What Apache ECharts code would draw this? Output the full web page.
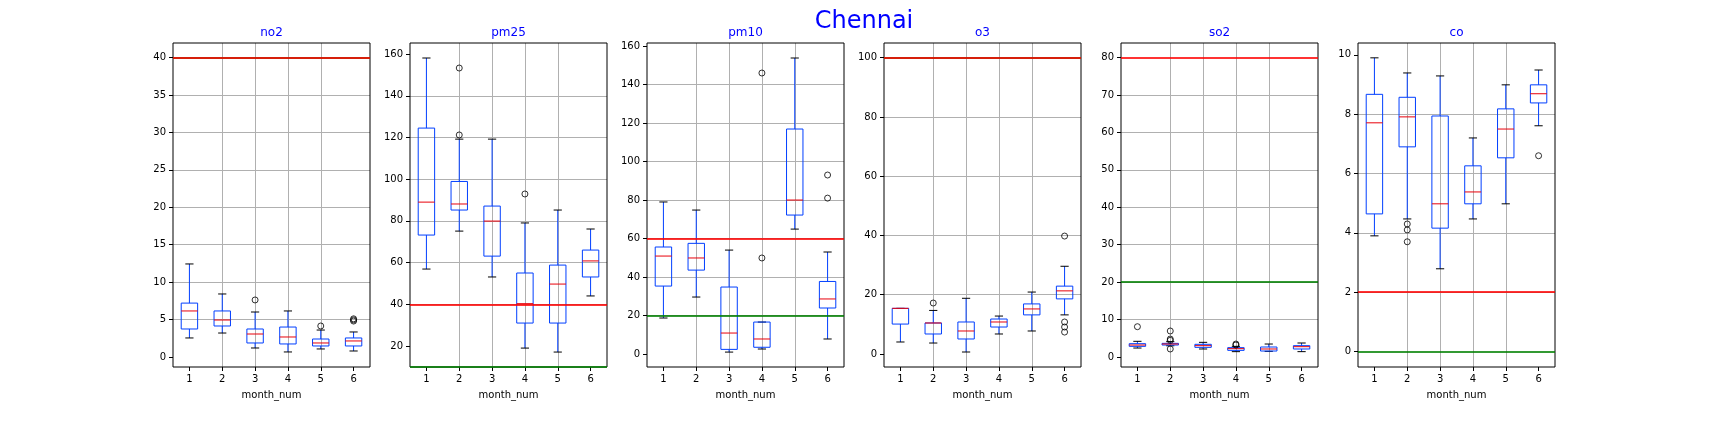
<!DOCTYPE html>
<html>
<head>
<meta charset="utf-8">
<script src="https://cdn.jsdelivr.net/npm/echarts@6/dist/echarts.min.js"></script>
<style>
  html, body { margin: 0; padding: 0; background: #fff; }
  #chart { width: 1728px; height: 432px; }
</style>
</head>
<body>
<div id="chart"></div>
<script>
const months = [1, 2, 3, 4, 5, 6];
const pollutants = ["no2", "pm25", "pm10", "o3", "so2", "co"];

// [min, q1, median, q3, max] for each month
const no2Box = [
  [2.54, 3.74, 6.15, 7.2, 12.43], [3.2, 4.14, 4.94, 6.15, 8.42], [1.2, 1.87, 3.07, 3.74, 6.01],
  [0.67, 1.74, 2.67, 4.0, 6.15], [1.07, 1.47, 1.87, 2.4, 3.6], [0.8, 1.47, 2.14, 2.54, 3.34]
];
const pm25Box = [
  [56.9, 73.2, 89.0, 124.5, 158.1], [75.1, 85.2, 88.1, 98.9, 119.2], [53.1, 63.1, 79.9, 87.1, 119.2],
  [19.0, 31.0, 40.3, 55.0, 79.0], [17.1, 31.0, 49.7, 58.8, 85.2], [44.0, 53.1, 60.8, 66.0, 76.1]
];
const pm10Box = [
  [18.7, 35.3, 50.9, 55.6, 79.0], [29.6, 43.6, 49.9, 57.5, 74.8], [1.0, 2.4, 10.9, 34.8, 54.0],
  [2.6, 3.5, 7.8, 16.6, 16.6], [64.9, 72.2, 80.0, 116.9, 153.8], [7.8, 23.9, 28.6, 37.7, 53.0]
];
const o3Box = [
  [4.05, 10.1, 15.4, 15.4, 15.4], [3.7, 6.75, 10.46, 10.46, 14.7], [0.67, 5.06, 7.76, 10.8, 18.8],
  [6.75, 9.1, 10.8, 11.8, 12.8], [7.76, 13.2, 15.2, 16.9, 20.9], [13.2, 18.6, 21.3, 22.9, 29.6]
];
const so2Box = [
  [2.4, 2.85, 3.2, 3.56, 4.19], [3.0, 3.2, 3.47, 3.65, 4.1], [2.14, 2.58, 3.03, 3.39, 3.92],
  [1.43, 1.78, 2.23, 2.5, 2.85], [1.51, 1.6, 2.14, 2.67, 3.47], [1.43, 2.14, 2.76, 3.03, 3.74]
];
const coBox = [
  [3.9, 4.64, 7.71, 8.67, 9.9], [4.47, 6.9, 7.91, 8.57, 9.39], [2.79, 4.16, 4.98, 7.94, 9.29],
  [4.47, 4.98, 5.38, 6.26, 7.2], [4.98, 6.53, 7.5, 8.18, 8.99], [7.61, 8.38, 8.69, 8.99, 9.49]
];

// outliers: [month, value]
const no2Out = [[3, 7.62], [5, 4.14], [6, 4.8], [6, 4.95], [6, 5.1]];
const pm25Out = [[2, 153.3], [2, 121.2], [4, 92.9]];
const pm10Out = [[4, 146.0], [4, 49.9], [6, 93.0], [6, 81.0]];
const o3Out = [[2, 17.2], [6, 39.8], [6, 10.8], [6, 9.1], [6, 7.4]];
const so2Out = [[1, 8.1], [2, 6.95], [2, 4.8], [2, 4.45], [2, 2.14], [4, 3.47], [4, 3.2]];
const coOut = [[2, 4.3], [2, 4.1], [2, 3.7], [6, 6.6]];

// guideline levels per pollutant
const redLimit = [40, 40, 60, 100, 80, 2];
const greenLimit = [40, 10, 20, 100, 20, 0];

// y axis extents and ticks
const yMin = [-1.34, 9.93, -6.75, -4.39, -2.67, -0.52];
const yMax = [41.96, 165.3, 161.6, 104.95, 83.9, 10.4];
const yStep = [5, 20, 20, 20, 10, 2];
const no2Ticks = [0, 5, 10, 15, 20, 25, 30, 35, 40];
const pm25Ticks = [20, 40, 60, 80, 100, 120, 140, 160];
const pm10Ticks = [0, 20, 40, 60, 80, 100, 120, 140, 160];
const o3Ticks = [0, 20, 40, 60, 80, 100];
const so2Ticks = [0, 10, 20, 30, 40, 50, 60, 70, 80];
const coTicks = [0, 2, 4, 6, 8, 10];

const boxes = [no2Box, pm25Box, pm10Box, o3Box, so2Box, coBox];
const outliers = [no2Out, pm25Out, pm10Out, o3Out, so2Out, coOut];
const yTicks = [no2Ticks, pm25Ticks, pm10Ticks, o3Ticks, so2Ticks, coTicks];

const FONT = "DejaVu Sans";
const BLUE = "#003FFF";
const MED = "#E8000B";
const panelLeft = i => 173 + 237 * i;
const panelW = 197;

function renderBox(params, api) {
  const x = api.value(0);
  const lo = api.coord([x, api.value(1)]);
  const q1 = api.coord([x, api.value(2)]);
  const md = api.coord([x, api.value(3)]);
  const q3 = api.coord([x, api.value(4)]);
  const hi = api.coord([x, api.value(5)]);
  const bw = api.size([0.5, 0])[0];
  const cw = bw / 2;
  const cx = lo[0];
  const seg = (x1, y1, x2, y2, color) => ({
    type: "line",
    shape: { x1, y1, x2, y2 },
    style: { stroke: color, lineWidth: 1 }
  });
  return {
    type: "group",
    children: [
      seg(cx, q1[1], cx, lo[1], BLUE),
      seg(cx, q3[1], cx, hi[1], BLUE),
      seg(cx - cw / 2, lo[1], cx + cw / 2, lo[1], "#000"),
      seg(cx - cw / 2, hi[1], cx + cw / 2, hi[1], "#000"),
      {
        type: "rect",
        shape: { x: cx - bw / 2, y: q3[1], width: bw, height: q1[1] - q3[1] },
        style: { fill: "none", stroke: BLUE, lineWidth: 1 }
      },
      seg(cx - bw / 2, md[1], cx + bw / 2, md[1], MED)
    ]
  };
}

const labelStyle = { color: "#000", fontSize: 10, fontFamily: FONT };

const option = {
  animation: false,
  backgroundColor: "#fff",
  title: [
    {
      text: "Chennai", left: 864, top: 10, textAlign: "center", padding: 0,
      textStyle: { color: "#0000ff", fontSize: 24, fontWeight: "normal", fontFamily: FONT }
    }
  ].concat(pollutants.map((p, i) => ({
    text: p, left: panelLeft(i) + panelW / 2, top: 27, textAlign: "center", padding: 0,
    textStyle: { color: "#0000ff", fontSize: 12, fontWeight: "normal", fontFamily: FONT }
  }))),
  grid: pollutants.map((p, i) => ({
    left: panelLeft(i), top: 43, width: panelW, height: 324,
    show: true, borderColor: "#000", borderWidth: 1, backgroundColor: "transparent", z: 5
  })),
  xAxis: pollutants.map((p, i) => ({
    gridIndex: i, type: "value", min: 0.5, max: 6.5,
    minInterval: 1, maxInterval: 1, splitNumber: 6,
    name: "month_num", nameLocation: "middle", nameGap: 23,
    nameTextStyle: labelStyle,
    axisLine: { show: false, onZero: false },
    axisTick: { show: true, length: 4, lineStyle: { color: "#000" }, customValues: months },
    axisLabel: Object.assign({ margin: 7, customValues: months,
      formatter: v => Number.isInteger(v) ? String(v) : "" }, labelStyle),
    splitLine: { show: true, showMinLine: false, showMaxLine: false, lineStyle: { color: "#b0b0b0", width: 1 } }
  })),
  yAxis: pollutants.map((p, i) => ({
    gridIndex: i, type: "value", min: yMin[i], max: yMax[i],
    minInterval: yStep[i], maxInterval: yStep[i], splitNumber: 10,
    axisLine: { show: false, onZero: false },
    axisTick: { show: true, length: 4, lineStyle: { color: "#000" }, customValues: yTicks[i] },
    axisLabel: Object.assign({ margin: 7, customValues: yTicks[i],
      formatter: v => (Math.abs(v / yStep[i] - Math.round(v / yStep[i])) < 1e-6 ? String(v) : "") }, labelStyle),
    splitLine: { show: true, showMinLine: false, showMaxLine: false, lineStyle: { color: "#b0b0b0", width: 1 } }
  })),
  series: pollutants.flatMap((p, i) => [
    {
      type: "custom",
      xAxisIndex: i, yAxisIndex: i,
      renderItem: renderBox,
      encode: { x: 0, y: [1, 2, 3, 4, 5] },
      data: months.map((m, k) => [m].concat(boxes[i][k])),
      silent: true,
      z: 2
    },
    {
      type: "scatter",
      xAxisIndex: i, yAxisIndex: i,
      data: outliers[i],
      symbol: "circle",
      symbolSize: 6,
      itemStyle: { color: "rgba(0,0,0,0)", borderColor: "#000", borderWidth: 1 },
      silent: true,
      z: 3,
      markLine: {
        silent: true,
        symbol: ["none", "none"],
        label: { show: false },
        lineStyle: { type: "solid", width: 2 },
        data: [
          { yAxis: greenLimit[i], lineStyle: { color: "rgba(0,128,0,0.8)", type: "solid", width: 2 } },
          { yAxis: redLimit[i], lineStyle: { color: "rgba(255,0,0,0.8)", type: "solid", width: 2 } }
        ]
      }
    }
  ])
};

const chart = echarts.init(document.getElementById("chart"));
chart.setOption(option);
window.addEventListener("resize", () => chart.resize());
</script>
</body>
</html>
